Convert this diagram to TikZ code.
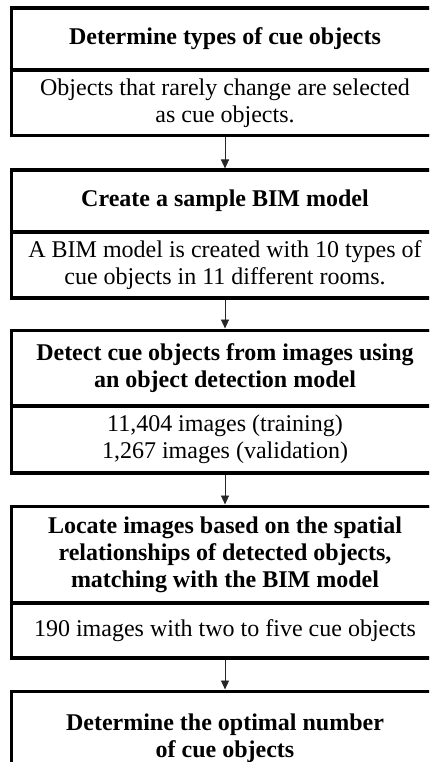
\documentclass[tikz,border=0pt]{standalone}
\usepackage{fontspec}
\setmainfont{Liberation Serif}
\usetikzlibrary{arrows.meta}

\tikzset{
  part/.style={draw=black, line width=2pt, rectangle, inner sep=0pt,
    minimum width=426pt, align=center, font=\fontsize{24}{27}\selectfont},
  headpart/.style={part, font=\fontsize{24}{27}\selectfont\bfseries},
  frame/.style={draw=black, line width=3pt},
  flow/.style={draw=black!85, line width=0.9pt,
    -{Triangle[width=8pt,length=9pt]}, shorten >=1.5pt, shorten <=1.5pt}
}

\begin{document}
\begin{tikzpicture}[x=1pt, y=-1pt]
  \useasboundingbox (0,0) rectangle (429,762);
  \clip (0,0) rectangle (429,762);

  % Step 1
  \node[headpart, minimum height=60pt, anchor=north] (h1) at (225,8)
    {Determine types of cue objects};
  \node[part, minimum height=64pt, anchor=north] (b1) at (h1.south)
    {Objects that rarely change are selected\\as cue objects.};
  \draw[frame] (h1.north west) rectangle (b1.south east);

  % Step 2
  \node[headpart, minimum height=60pt, anchor=north] (h2) at (225,170)
    {Create a sample BIM model};
  \node[part, minimum height=64pt, anchor=north] (b2) at (h2.south)
    {A BIM model is created with 10 types of\\cue objects in 11 different rooms.};
  \draw[frame] (h2.north west) rectangle (b2.south east);

  % Step 3
  \node[headpart, minimum height=74pt, anchor=north] (h3) at (225,330)
    {Detect cue objects from images using\\an object detection model};
  \node[part, minimum height=65pt, anchor=north] (b3) at (h3.south)
    {11,404 images (training)\\1,267 images (validation)};
  \draw[frame] (h3.north west) rectangle (b3.south east);

  % Step 4
  \node[headpart, minimum height=95pt, anchor=north] (h4) at (225,506)
    {Locate images based on the spatial\\relationships of detected objects,\\matching with the BIM model};
  \node[part, minimum height=53pt, anchor=north] (b4) at (h4.south)
    {190 images with two to five cue objects};
  \draw[frame] (h4.north west) rectangle (b4.south east);

  % Step 5 (runs on below the lower edge)
  \node[headpart, minimum height=92pt, anchor=north, draw=none] (h5) at (225,691)
    {Determine the optimal number\\of cue objects};
  \draw[frame] (h5.south west) |- (h5.north east) -- (h5.south east);

  % Connectors
  \draw[flow] (b1.south) -- (h2.north);
  \draw[flow] (b2.south) -- (h3.north);
  \draw[flow] (b3.south) -- (h4.north);
  \draw[flow] (b4.south) -- (h5.north);
\end{tikzpicture}
\end{document}
